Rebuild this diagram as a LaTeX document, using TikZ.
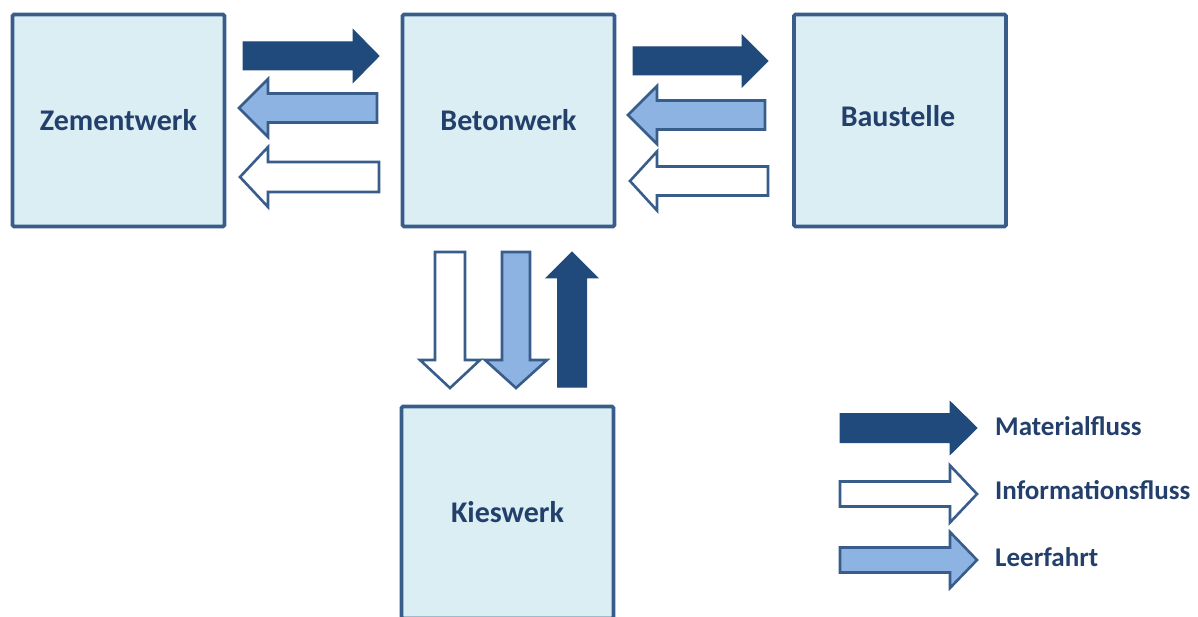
\documentclass[tikz,border=0pt]{standalone}
\usepackage{fontspec}
\setmainfont{Carlito}
\definecolor{boxfill}{HTML}{DBEEF4}
\definecolor{boxline}{HTML}{385D8A}
\definecolor{darkblue}{HTML}{214A7C}
\definecolor{midblue}{HTML}{8DB3E2}
\definecolor{txtblue}{HTML}{233F6B}
\newcommand\HArrow[7]{\path[#1] (#2,{#5-#6}) -- (#3,{#5-#6}) -- (#3,{#5-#7}) -- (#4,#5) -- (#3,{#5+#7}) -- (#3,{#5+#6}) -- (#2,{#5+#6}) -- cycle;}
\newcommand\VArrow[7]{\path[#1] ({#2-#6},#3) -- ({#2-#6},#4) -- ({#2-#7},#4) -- (#2,#5) -- ({#2+#7},#4) -- ({#2+#6},#4) -- ({#2+#6},#3) -- cycle;}
\tikzset{
  werk/.style={draw=boxline, fill=boxfill, line width=3.6pt, rounded corners=1.5pt,
    minimum width=212pt, minimum height=212pt, inner sep=0pt,
    font=\fontsize{30}{34}\selectfont\bfseries, text=txtblue},
  werktext/.style={inner sep=0pt, font=\fontsize{30}{34}\selectfont\bfseries, text=txtblue},
  matfl/.style={fill=darkblue, draw=darkblue, line width=1pt, line join=miter},
  infofl/.style={fill=white, draw=boxline, line width=2.6pt, line join=miter},
  leerfl/.style={fill=midblue, draw=boxline, line width=2.6pt, line join=miter},
  legtext/.style={anchor=west, inner sep=0pt, font=\fontsize{27}{30}\selectfont\bfseries, text=txtblue}
}
\begin{document}
\begin{tikzpicture}[x=1pt,y=-1pt]
\useasboundingbox (0,0) rectangle (1198,617);
\clip (0,0) rectangle (1198,617);
% boxes
\node[werk] (zement) at (118.5,120.5) {Zementwerk};
\node[werk] (beton) at (508.5,120.5) {Betonwerk};
\node[werk] (baustelle) at (900,120.5) {};
\node[werktext] (baustelletext) at (898,116.5) {Baustelle};
\node[werk] (kies) at (507.5,512.5) {Kieswerk};
% Zementwerk <-> Betonwerk
\HArrow{matfl}{243}{353}{379}{56}{14}{26.5}
\HArrow{leerfl}{377}{268}{239}{108}{14.5}{29}
\HArrow{infofl}{379}{268}{240}{177}{15}{30}
% Betonwerk <-> Baustelle
\HArrow{matfl}{633}{742}{768}{61}{14}{26}
\HArrow{leerfl}{765}{657}{628}{115}{14.5}{29}
\HArrow{infofl}{768}{657}{630}{181}{14.5}{29.5}
% Betonwerk <-> Kieswerk
\VArrow{infofl}{450}{252}{360}{388}{15}{30}
\VArrow{leerfl}{516}{252}{360}{388}{14}{31}
\VArrow{matfl}{572}{387}{278}{252}{14.5}{26}
% legend
\HArrow{matfl}{840}{950}{977}{428}{14.5}{26.5}
\HArrow{infofl}{840}{950}{977}{494}{12.5}{28.5}
\HArrow{leerfl}{840}{950}{977}{560}{12.5}{28}
\node[legtext] (lmat) at (995,426) {Materialfluss};
\node[legtext] (linfo) at (995,490) {Informationsfluss};
\node[legtext] (lleer) at (995,557) {Leerfahrt};
\end{tikzpicture}
\end{document}
